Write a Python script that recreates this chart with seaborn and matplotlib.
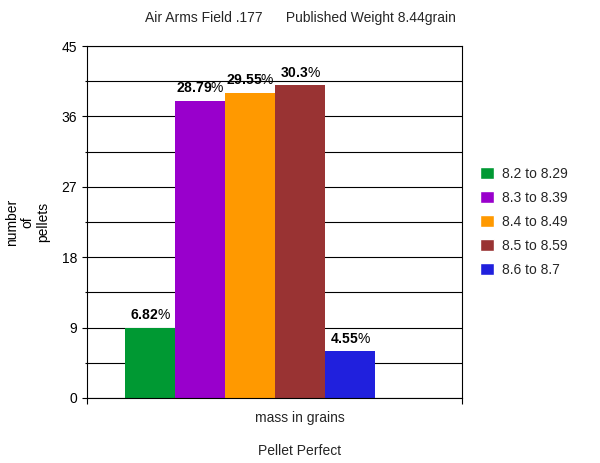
import pandas as pd
import seaborn as sns
import matplotlib
matplotlib.use('Agg')
import matplotlib.pyplot as plt
from matplotlib.ticker import MultipleLocator

# data
ranges = ['8.2 to 8.29', '8.3 to 8.39', '8.4 to 8.49', '8.5 to 8.59', '8.6 to 8.7']
counts = [9, 38, 39, 40, 6]
pct_values = ['6.82', '28.79', '29.55', '30.3', '4.55']
colors = ['#009933', '#9900CC', '#FF9900', '#993333', '#2020DD']

sns.set_theme(style='white')
plt.rcParams['font.family'] = ['Liberation Sans', 'DejaVu Sans']
plt.rcParams['font.size'] = 10
# bold number + regular % sign, as in the original
plt.rcParams['mathtext.fontset'] = 'custom'
plt.rcParams['mathtext.rm'] = 'Liberation Sans'
plt.rcParams['mathtext.bf'] = 'Liberation Sans:bold'

df = pd.DataFrame({'group': ['mass in grains'] * len(ranges), 'range': ranges, 'count': counts})

fig = plt.figure(figsize=(6, 4.63), dpi=100)
ax = fig.add_axes([0.145, 0.1404, 0.625, 0.7602])

sns.barplot(data=df, x='group', y='count', hue='range', hue_order=ranges,
            palette=colors, width=0.8, saturation=1, ax=ax, legend=True)

for cont, val in zip(ax.containers, pct_values):
    for bar in cont:
        bar.set_edgecolor('none')
    ax.bar_label(cont, labels=[r'$\mathbf{' + val + '}$%'], padding=4, fontsize=10,
                 color='black')

ax.set_xlim(-0.5216, 0.6784)
ax.set_ylim(0, 45)
ax.yaxis.set_major_locator(MultipleLocator(9))
ax.yaxis.set_minor_locator(MultipleLocator(4.5))
ax.grid(True, which='both', axis='y', color='black', linewidth=0.8)
ax.set_axisbelow(True)

ax.set_xticks([-0.5216, 0.6784])
ax.set_xticklabels(['', ''])
ax.tick_params(axis='x', direction='out', length=4, width=0.8, color='black', bottom=True)
ax.tick_params(axis='y', which='major', direction='out', length=3.6, width=0.8,
               color='black', pad=3.6, left=True, labelsize=10, labelcolor='black')
ax.tick_params(axis='y', which='minor', direction='out', length=1.5, width=0.8,
               color='black', left=True)
for sp in ax.spines.values():
    sp.set_visible(True)
    sp.set_color('black')
    sp.set_linewidth(0.8)

ax.set_xlabel('')
ax.set_ylabel('number\nof\npellets', fontsize=10, color='black', linespacing=1.15)
ax.yaxis.set_label_coords(-0.099, 0.5)

fig.text(0.5, 0.961, 'Air Arms Field .177      Published Weight 8.44grain',
         ha='center', va='center', fontsize=10)
fig.text(0.5, 0.097, 'mass in grains', ha='center', va='center', fontsize=10)
fig.text(0.5, 0.026, 'Pellet Perfect', ha='center', va='center', fontsize=10)

handles, labels = ax.get_legend_handles_labels()
ax.legend(handles, labels, loc='center left', bbox_to_anchor=(0.8, 0.5205),
          bbox_transform=fig.transFigure, frameon=False, borderpad=0, borderaxespad=0,
          handlelength=1.0, handleheight=1.0, handletextpad=0.6, labelspacing=0.72,
          fontsize=10, title=None)

fig.savefig('out.png', dpi=100)
